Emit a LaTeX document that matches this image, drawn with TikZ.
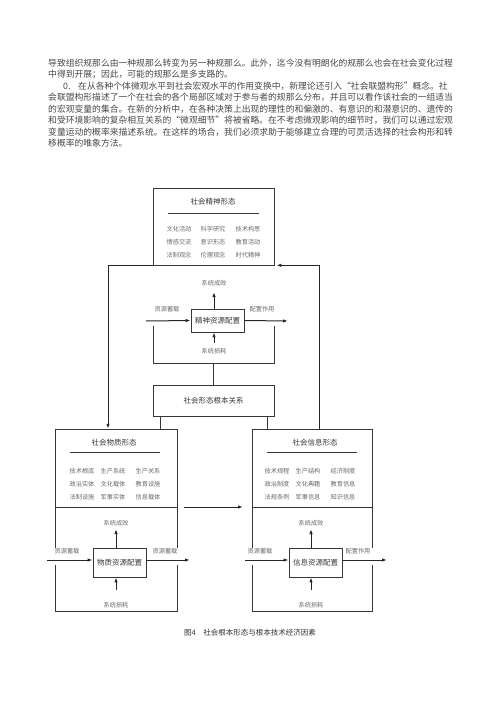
\documentclass[tikz,border=0pt]{standalone}
\usepackage{fontspec}
\setmainfont{Noto Sans CJK SC}
\usetikzlibrary{arrows.meta,calc}
\definecolor{scanink}{RGB}{55,55,55}
\definecolor{scangray}{RGB}{105,105,105}
\tikzset{formbox/.style={draw=scanink,line width=0.6pt,inner sep=0pt},
 frame/.style={draw=scanink,line width=0.9pt},
 flow/.style={-{Latex[length=5pt,width=3.4pt]},line width=1pt,draw=black!85},
 link/.style={line width=0.7pt,draw=scanink},
 item/.style={font=\fontsize{6.2}{7}\selectfont,text=scangray,inner sep=0pt},
 tag/.style={font=\fontsize{6.2}{7}\selectfont,text=scangray,inner sep=0pt},
 title/.style={font=\fontsize{7.5}{8}\selectfont,text=scanink,inner sep=0pt},
 bodyline/.style={anchor=west,inner sep=0pt,font=\fontsize{8.8}{10}\selectfont,text=black!72}}

\begin{document}
\begin{tikzpicture}[x=1pt,y=-1pt]
\useasboundingbox (0,0) rectangle (500,707);
% text above the figure
\node[bodyline] (par1) at (48,63) {导致组织规那么由一种规那么转变为另一种规那么。此外，迄今没有明朗化的规那么也会在社会变化过程};
\node[bodyline] (par2) at (48,74.5) {中得到开展；因此，可能的规那么是多支路的。};
\node[bodyline] (par3a) at (63,86) {0.};
\node[bodyline] (par3) at (78,86) {在从各种个体微观水平到社会宏观水平的作用变换中，新理论还引入“社会联盟构形”概念。社};
\node[bodyline] (par4) at (48,97.5) {会联盟构形描述了一个在社会的各个局部区域对于参与者的规那么分布，并且可以看作该社会的一组适当};
\node[bodyline] (par5) at (48,109) {的宏观变量的集合。在新的分析中，在各种决策上出现的理性的和偏激的、有意识的和潜意识的、遗传的};
\node[bodyline] (par6) at (48,120.5) {和受环境影响的复杂相互关系的“微观细节”将被省略。在不考虑微观影响的细节时，我们可以通过宏观};
\node[bodyline] (par7) at (48,132) {变量运动的概率来描述系统。在这样的场合，我们必须求助于能够建立合理的可灵活选择的社会构形和转};
\node[bodyline] (par8) at (48,143.5) {移概率的唯象方法。};

% spirit form
\node[formbox,minimum width=121pt,minimum height=77pt] (spirit) at (213.5,226.5) {};
\node[title] (spiritt) at (213,202) {社会精神形态};
\draw[link] (168,213)--(259,213);
\foreach \lbl/\xx/\yy [count=\k] in {文化活动/179/229,科学研究/213/229,技术构思/248/229,
  情感交流/179/242,意识形态/213/242,教育活动/248/242,
  法制观念/179/255,伦理观念/213/255,时代精神/248/255}
  \node[item] (sp\k) at (\xx,\yy) {\lbl};
\draw[frame] (153,326) |- (274,363) -- (274,326);
\node[formbox,minimum width=53pt,minimum height=23pt,title] (spres) at (217.5,320.5) {精神资源配置};
\coordinate (spin) at (146,321);
\coordinate (spout) at (288,321);
\coordinate (spup) at (214,292);
\coordinate (spdn) at (214,343);
\coordinate (spbase) at (213,363);
\node[tag] (spupl) at (214,283) {系统成效};
\node[tag] (spdnl) at (214,351) {系统损耗};
\node[tag] (spinl) at (167,309) {资源蓄载};
\node[tag] (spoutl) at (262,309) {配置作用};
\draw[flow] (spin) -- (spres.west);
\draw[flow] (spres.east) -- (spout);
\draw[flow] (spres.north -| spup) -- (spup);
\draw[flow] (spdn) -- (spdn |- spres.south);

% fundamental relation
\node[formbox,minimum width=121pt,minimum height=31pt,title] (fund) at (213.5,400.5) {社会形态根本关系};
\draw[link] (spbase) -- (spbase |- fund.north);

% material form
\node[inner sep=0pt,minimum width=122pt,minimum height=182pt] (mat) at (116,520) {};
\draw[frame] (55,548) |- (177,429) -- (177,548);
\draw[frame] (55,565) |- (177,611) -- (177,565);
\draw[frame] (55,507) -- (177,507);
\node[title] (matt) at (114,443) {社会物质形态};
\draw[link] (70,452)--(160,452);
\foreach \lbl/\xx/\yy [count=\k] in {技术根底/82/471,生产系统/113/471,生产关系/148/471,
  政治实体/82/484,文化载体/113/484,教育设施/148/484,
  法制设施/82/497,军事实体/113/497,信息载体/148/497}
  \node[item] (ma\k) at (\xx,\yy) {\lbl};
\node[formbox,minimum width=53pt,minimum height=29pt,title] (mares) at (119.5,562.5) {物质资源配置};
\coordinate (main) at (47,560);
\coordinate (maout) at (190,560);
\coordinate (maup) at (116,529);
\coordinate (madn) at (116,590);
\coordinate (madiv) at (177,507);
\node[tag] (maupl) at (116,523) {系统成效};
\node[tag] (madnl) at (116,605) {系统损耗};
\node[tag] (mainl) at (67,551) {资源蓄载};
\node[tag] (maoutl) at (165,551) {资源蓄载};
\draw[flow] (main) -- (main -| mares.west);
\draw[flow] (maout -| mares.east) -- (maout);
\draw[flow] (mares.north -| maup) -- (maup);
\draw[flow] (madn) -- (madn |- mares.south);

% information form
\node[inner sep=0pt,minimum width=120pt,minimum height=182pt] (info) at (312,520) {};
\draw[frame] (252,548) |- (372,429) -- (372,548);
\draw[frame] (252,565) |- (372,611) -- (372,565);
\draw[frame] (252,507) -- (372,507);
\node[title] (infot) at (315,443) {社会信息形态};
\draw[link] (267,452)--(357,452);
\foreach \lbl/\xx/\yy [count=\k] in {技术规程/277/471,生产结构/308/471,经济制度/343/471,
  政治制度/277/484,文化典籍/308/484,教育信息/343/484,
  法规条例/277/497,军事信息/308/497,知识信息/343/497}
  \node[item] (in\k) at (\xx,\yy) {\lbl};
\node[formbox,minimum width=53pt,minimum height=29pt,title] (infres) at (315.5,562.5) {信息资源配置};
\coordinate (inin) at (245,560);
\coordinate (inout) at (387,560);
\coordinate (inup) at (311,529);
\coordinate (indn) at (311,590);
\coordinate (indiv) at (252,507);
\node[tag] (inupl) at (311,523) {系统成效};
\node[tag] (indnl) at (311,605) {系统损耗};
\node[tag] (ininl) at (260,551) {资源蓄载};
\node[tag] (inoutl) at (358,551) {配置作用};
\draw[flow] (inin) -- (inin -| infres.west);
\draw[flow] (inout -| infres.east) -- (inout);
\draw[flow] (infres.north -| inup) -- (inup);
\draw[flow] (indn) -- (indn |- infres.south);

% links between the forms
\draw[link] ([xshift=8pt]fund.south west) -- ([xshift=8pt]fund.south west |- mat.north);
\draw[link] ([xshift=-7pt]fund.south east) -- ([xshift=-7pt]fund.south east |- info.north);
\draw[flow] ([xshift=7pt]info.north) |- ([xshift=2pt]spirit.south east);
\draw[flow] (spirit.south west) -| ([xshift=-8pt]mat.north);
\draw[flow] ([xshift=7pt]madiv) -- ([xshift=-9pt]indiv);

\node[font=\fontsize{7.5}{8}\selectfont,text=black!80,inner sep=0pt] (caption) at (250,633) {图4\quad 社会根本形态与根本技术经济因素};
\end{tikzpicture}
\end{document}
